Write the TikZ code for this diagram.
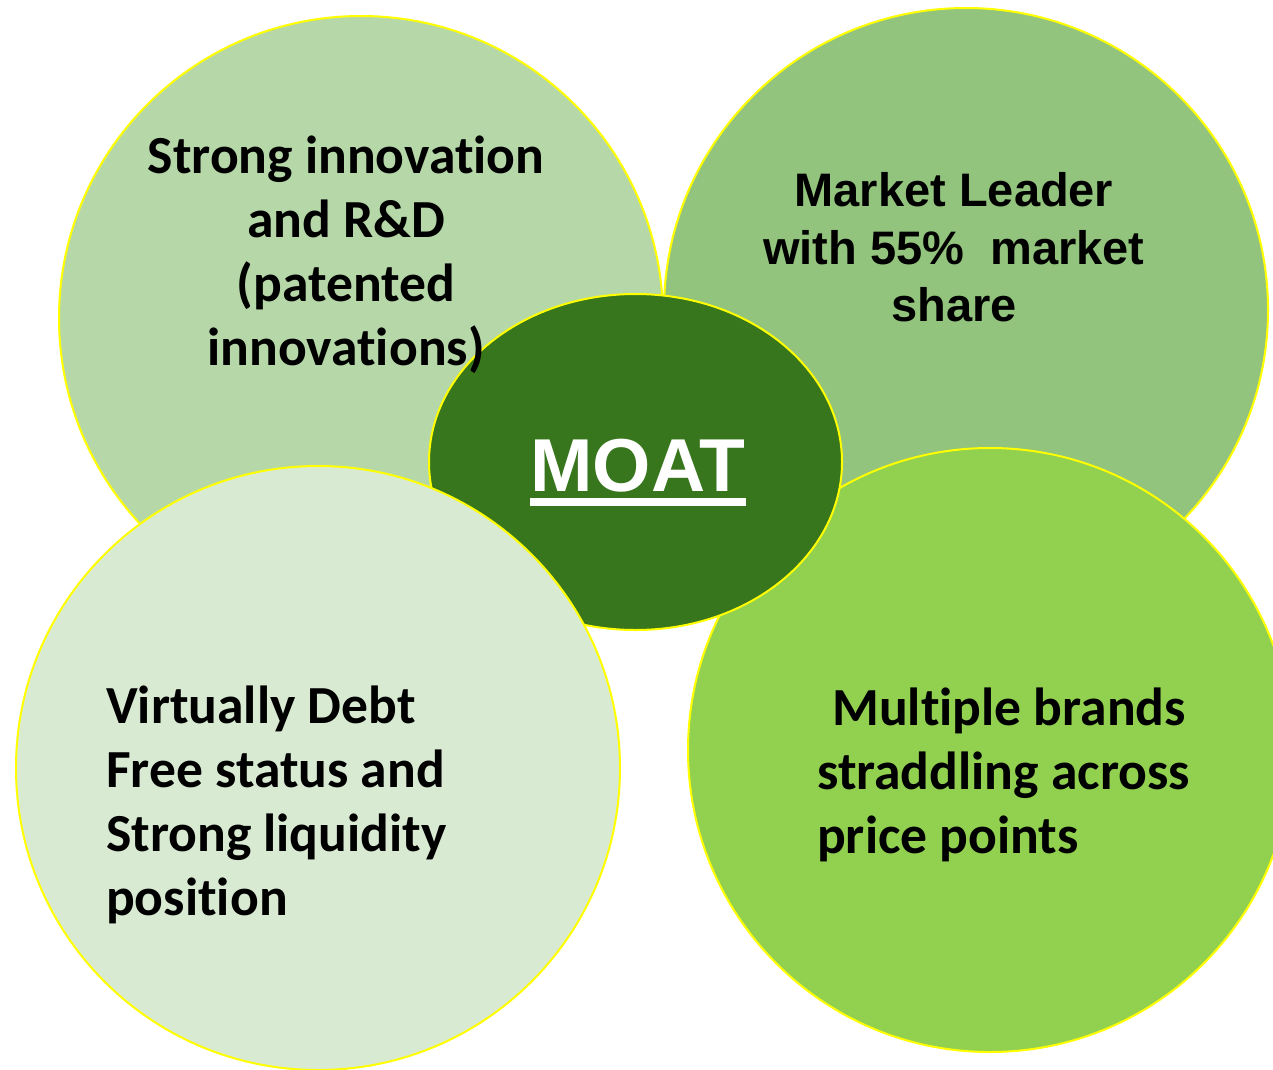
\documentclass[tikz,border=0pt]{standalone}
\usepackage{fontspec}
\usetikzlibrary{shapes.geometric}
\newfontfamily\calibrifont[Ligatures=NoCommon]{Carlito}
\newfontfamily\arialfont{Liberation Sans}
\definecolor{innovfill}{HTML}{B6D7A8}
\definecolor{leaderfill}{HTML}{93C47D}
\definecolor{brandsfill}{HTML}{92D050}
\definecolor{debtfill}{HTML}{D9EAD3}
\definecolor{moatfill}{HTML}{38761D}
\definecolor{rim}{HTML}{FFFF00}
\begin{document}
\begin{tikzpicture}[x=1pt,y=-1pt,
  bubble/.style={circle, draw=rim, line width=2pt, minimum size=604pt, inner sep=0pt},
  centrefont/.style={font=\calibrifont\bfseries\fontsize{53.6}{64}\selectfont, inner sep=0pt},
  arialblock/.style={font=\arialfont\bfseries\fontsize{47}{57.5}\selectfont, inner sep=0pt}]
\useasboundingbox (0,0) rectangle (1273,1069);
\clip (0,0) rectangle (1273,1069);

% four overlapping bubbles and the central ellipse
\node[bubble, fill=innovfill]  (innov)  at (361,318) {};
\node[bubble, fill=leaderfill] (leader) at (966,310) {};
\node[bubble, fill=brandsfill] (brands) at (990,750) {};
\node[ellipse, draw=rim, line width=2pt, fill=moatfill,
      minimum width=413pt, minimum height=336pt, inner sep=0pt] (moatshape) at (635.5,462) {};
\node[bubble, fill=debtfill]   (debt)   at (318,768) {};

% labels
\node[centrefont, align=center] (innovtext) at (346,255)
  {Strong innovation\\and R\&D\\(patented\\innovations)};
\node[arialblock, align=center] (leadertext) at (954,247.5)
  {Market Leader\\with 55\%\ \ market\\share};
\node[centrefont, align=left, anchor=west] (debttext) at (106,805)
  {Virtually Debt\\Free status and\\Strong liquidity\\position};
\node[centrefont, align=left, anchor=west] (brandstext) at (817,775)
  {\hspace*{15pt}Multiple brands\\straddling across\\price points};

% centre title with a heavy underline
\node[font=\arialfont\bfseries\fontsize{75}{80}\selectfont, text=white,
      inner sep=0pt, anchor=base] (moat) at (638,491) {MOAT};
\fill[white] ([yshift=-7pt]moat.base west) rectangle ([yshift=-15pt]moat.base east);
\end{tikzpicture}
\end{document}
